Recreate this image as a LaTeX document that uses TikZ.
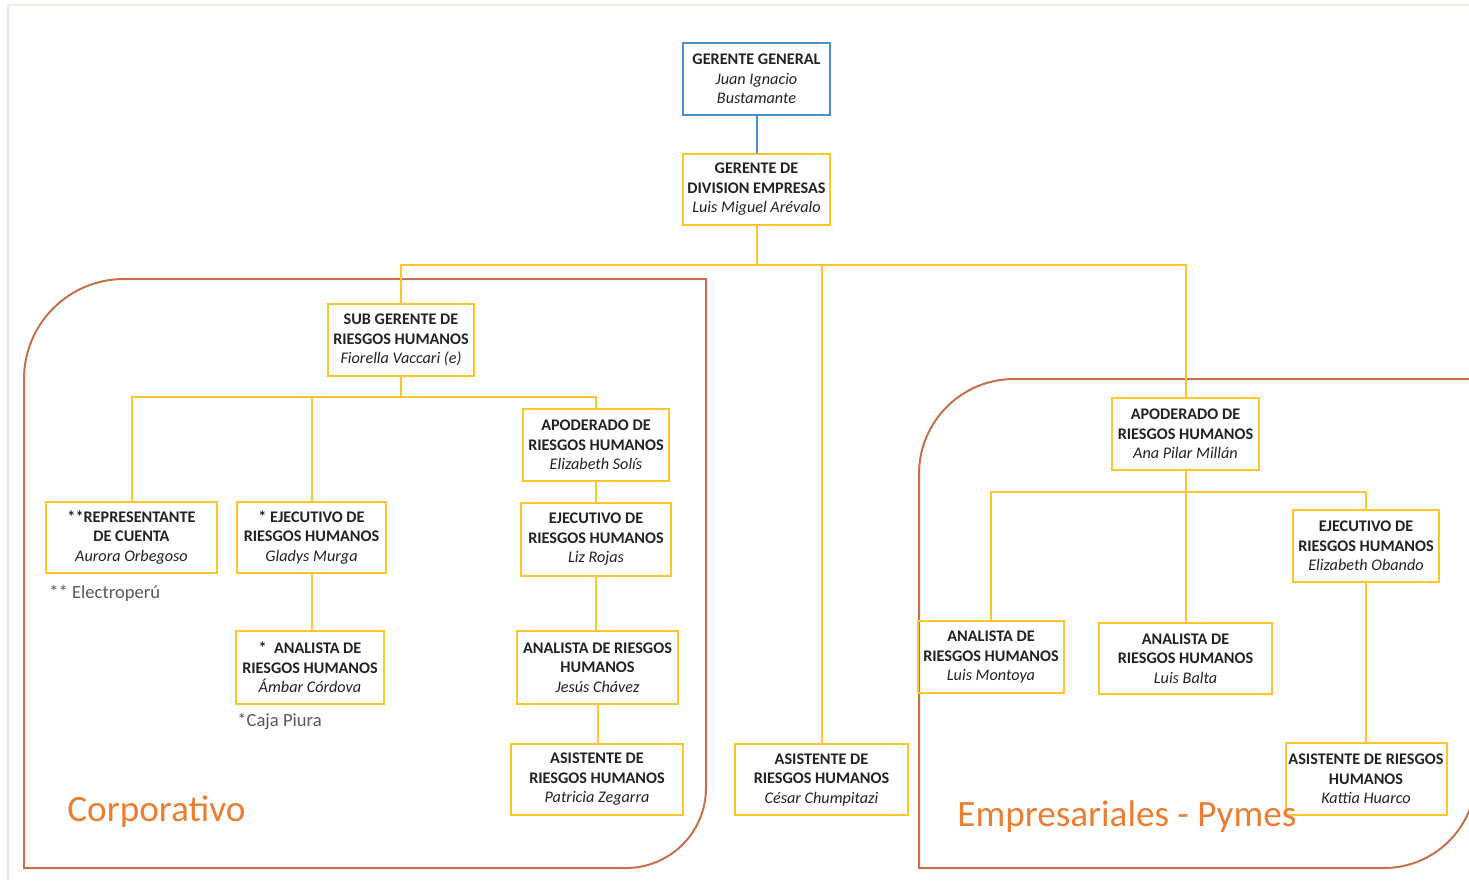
\documentclass[tikz,border=0pt]{standalone}
\usepackage{fontspec}
\setmainfont{Carlito}
\definecolor{boxy}{HTML}{FFC629}
\definecolor{bluebox}{HTML}{4A90D0}
\definecolor{grpc}{HTML}{C8704A}
\definecolor{lblc}{HTML}{ED7D31}
\definecolor{txt}{HTML}{222222}
\definecolor{notec}{HTML}{595959}
\definecolor{framec}{HTML}{EEEAE0}
\newcommand\pname[1]{{\mdseries\itshape #1}}
\tikzset{
  box/.style={draw=boxy, line width=1pt, align=center, inner sep=0pt, text=txt,
    font=\fontsize{8.1}{9.75}\selectfont\bfseries},
  conn/.style={draw=boxy, line width=1pt},
  grp/.style={draw=grpc, line width=1pt},
  lbl/.style={text=lblc, font=\fontsize{18.6}{22}\selectfont, anchor=west, inner sep=0pt},
  note/.style={text=notec, font=\fontsize{9.3}{11}\selectfont, anchor=west, inner sep=0pt}
}
\begin{document}
\begin{tikzpicture}[x=0.5pt, y=-0.5pt]
\useasboundingbox (0,0) rectangle (1469,880);
\clip (0,0) rectangle (1469,880);
% frame
\draw[framec, line width=1pt] (8,880) -- (8,5) -- (1469,5);
% group containers
\draw[grp] (24,868) -- (24,379) arc[start angle=180, end angle=270, radius=100]
  -- (706,279) -- (706,788) arc[start angle=0, end angle=90, radius=80] -- cycle;
\draw[grp] (919,868) -- (919,474) arc[start angle=180, end angle=270, radius=95]
  -- (1476,379) -- (1476,776) arc[start angle=0, end angle=90, radius=92] -- cycle;
% nodes
\node[box, draw=bluebox, minimum width=73.5pt, minimum height=36pt] (gg) at (756.5,79)
  {GERENTE GENERAL\\\pname{Juan Ignacio}\\\pname{Bustamante}};
\node[box, minimum width=73.5pt, minimum height=35.5pt] (gde) at (756.5,189.5)
  {GERENTE DE\\DIVISION EMPRESAS\\\pname{Luis Miguel Arévalo}};
\node[box, minimum width=73pt, minimum height=36pt] (sub) at (401,340)
  {SUB GERENTE DE\\RIESGOS HUMANOS\\\pname{Fiorella Vaccari (e)}};
\node[box, minimum width=85.5pt, minimum height=35.5pt] (rep) at (131.5,537.5)
  {**REPRESENTANTE\\DE CUENTA\\\pname{Aurora Orbegoso}};
\node[box, minimum width=74.5pt, minimum height=35.5pt] (gla) at (311.5,537.5)
  {* EJECUTIVO DE\\RIESGOS HUMANOS\\\pname{Gladys Murga}};
\node[box, minimum width=73pt, minimum height=36pt] (eli) at (596,445)
  {APODERADO DE\\RIESGOS HUMANOS\\\pname{Elizabeth Solís}};
\node[box, minimum width=75pt, minimum height=36.5pt] (liz) at (596,539.5)
  {EJECUTIVO DE\\RIESGOS HUMANOS\\\pname{Liz Rojas}};
\node[box, minimum width=74pt, minimum height=36.5pt] (amb) at (310,667.5)
  {*\ \ ANALISTA DE\\RIESGOS HUMANOS\\\pname{Ámbar Córdova}};
\node[box, minimum width=80.5pt, minimum height=36.5pt] (jes) at (597.5,667.5)
  {ANALISTA DE RIESGOS\\HUMANOS\\\pname{Jesús Chávez}};
\node[box, minimum width=86pt, minimum height=35.5pt] (pat) at (597,779.5)
  {ASISTENTE DE\\RIESGOS HUMANOS\\\pname{Patricia Zegarra}};
\node[box, minimum width=86.5pt, minimum height=35.5pt] (ces) at (821.5,779.5)
  {ASISTENTE DE\\RIESGOS HUMANOS\\\pname{César Chumpitazi}};
\node[box, minimum width=73.5pt, minimum height=36pt] (ana) at (1185.5,434)
  {APODERADO DE\\RIESGOS HUMANOS\\\pname{Ana Pilar Millán}};
\node[box, minimum width=73pt, minimum height=36pt] (oba) at (1366,546)
  {EJECUTIVO DE\\RIESGOS HUMANOS\\\pname{Elizabeth Obando}};
\node[box, minimum width=73pt, minimum height=36pt] (mon) at (991,657)
  {ANALISTA DE\\RIESGOS HUMANOS\\\pname{Luis Montoya}};
\node[box, minimum width=86.5pt, minimum height=35.5pt] (bal) at (1185.5,658.5)
  {ANALISTA DE\\RIESGOS HUMANOS\\\pname{Luis Balta}};
\node[box, minimum width=80.5pt, minimum height=36pt] (kat) at (1366,779)
  {ASISTENTE DE RIESGOS\\HUMANOS\\\pname{Kattia Huarco}};
% connectors
\draw[draw=bluebox, line width=1pt] (gg.south) -- (gde.north);
\draw[conn] (gde.south) -- ++(0,39) -| (sub.north);
\draw[conn] (gde.south) -- ++(0,39) -| (ces.north);
\draw[conn] (gde.south) -- ++(0,39) -| (ana.north);
\draw[conn] (sub.south) -- ++(0,20) -| (rep.north);
\draw[conn] (sub.south) -- ++(0,20) -| (gla.north);
\draw[conn] (sub.south) -- ++(0,20) -| (eli.north);
\draw[conn] (gla.south) -- (gla.south |- amb.north);
\draw[conn] (eli.south) -- (liz.north);
\draw[conn] (liz.south) -- (liz.south |- jes.north);
\draw[conn] (jes.south) -- (jes.south |- pat.north);
\draw[conn] (ana.south) -- ++(0,21) -| (mon.north);
\draw[conn] (ana.south) -- (bal.north);
\draw[conn] (ana.south) -- ++(0,21) -| (oba.north);
\draw[conn] (oba.south) -- (kat.north);
% notes and labels
\node[note] (n1) at (49,593) {** Electroperú};
\node[note] (n2) at (237,721) {*Caja Piura};
\node[lbl] (l1) at (67,812) {Corporativo};
\node[lbl] (l2) at (957,817) {Empresariales - Pymes};
\end{tikzpicture}
\end{document}
